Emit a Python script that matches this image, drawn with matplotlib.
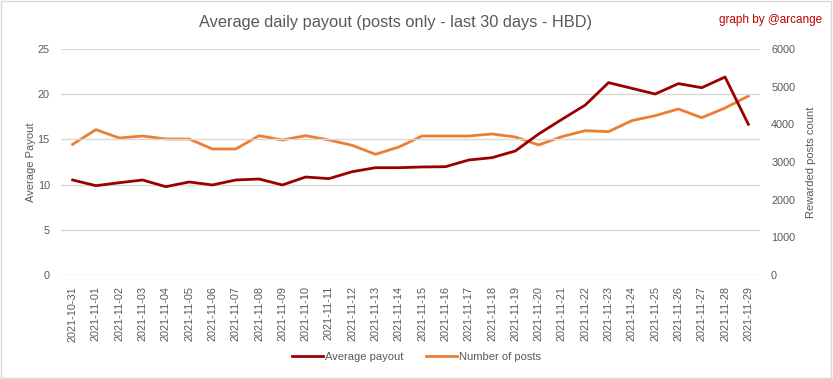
import matplotlib
matplotlib.use("Agg")
import matplotlib.pyplot as plt
from matplotlib.patches import Rectangle

dates = ["2021-10-31", "2021-11-01", "2021-11-02", "2021-11-03", "2021-11-04",
         "2021-11-05", "2021-11-06", "2021-11-07", "2021-11-08", "2021-11-09",
         "2021-11-10", "2021-11-11", "2021-11-12", "2021-11-13", "2021-11-14",
         "2021-11-15", "2021-11-16", "2021-11-17", "2021-11-18", "2021-11-19",
         "2021-11-20", "2021-11-21", "2021-11-22", "2021-11-23", "2021-11-24",
         "2021-11-25", "2021-11-26", "2021-11-27", "2021-11-28", "2021-11-29"]

avg_payout = [10.51, 9.88, 10.21, 10.51, 9.77, 10.29, 9.96, 10.51, 10.62, 9.96,
              10.84, 10.66, 11.43, 11.87, 11.87, 11.95, 11.98, 12.72, 12.98, 13.72,
              15.6, 17.22, 18.8, 21.28, 20.65, 20.02, 21.17, 20.72, 21.9, 16.67]

num_posts = [3469, 3859, 3637, 3690, 3611, 3611, 3345, 3345, 3699, 3584,
             3699, 3584, 3443, 3204, 3398, 3690, 3690, 3690, 3744, 3664,
             3452, 3673, 3832, 3806, 4098, 4230, 4407, 4177, 4434, 4752]

plt.rcParams['font.family'] = ['Liberation Sans', 'DejaVu Sans']
grey = "#595959"
red = "#9b0000"
orange = "#ed7d31"

fig = plt.figure(figsize=(8.33, 3.79), dpi=100)
ax = fig.add_axes([61 / 833, 1 - 275 / 379, 699 / 833, 226 / 379])
ax2 = ax.twinx()

x = list(range(len(dates)))
l1, = ax.plot(x, avg_payout, color=red, lw=2, label="Average payout")
l2, = ax2.plot(x, num_posts, color=orange, lw=2, label="Number of posts")
ax.set_zorder(ax2.get_zorder() + 1)
ax.patch.set_visible(False)

ax.set_xlim(-0.5, len(dates) - 0.5)
ax.set_ylim(0, 25)
ax2.set_ylim(0, 6000)
ax.set_yticks([0, 5, 10, 15, 20, 25])
ax2.set_yticks(range(0, 6001, 1000))
ax.set_xticks(x)
ax.set_xticklabels(dates, rotation=90)

for a in (ax, ax2):
    for s in a.spines.values():
        s.set_visible(False)
    a.tick_params(length=0, colors=grey, labelsize=7.8)
ax.tick_params(axis='x', pad=8)
ax.tick_params(axis='y', pad=8)
ax2.tick_params(axis='y', pad=8)
ax.grid(axis='y', color="#d9d9d9", lw=1)

ax.set_ylabel("Average Payout", color=grey, fontsize=8, labelpad=1)
ax2.set_ylabel("Rewarded posts count", color=grey, fontsize=8, labelpad=8)

fig.text(0.475, 1 - 22 / 379, "Average daily payout (posts only - last 30 days - HBD)",
         ha="center", va="center", fontsize=11.8, color=grey)
fig.text(0.987, 1 - 20 / 379, "graph by @arcange", ha="right", va="center",
         fontsize=8.5, color="#c00000")

fig.legend(handles=[l1, l2], loc="center", bbox_to_anchor=(0.5, 1 - 357 / 379),
           ncol=2, frameon=False, fontsize=8, labelcolor=grey, handlelength=2.8,
           handletextpad=0.2, columnspacing=2)

fig.patches.append(Rectangle((0.001, 0.002), 0.997, 0.995, transform=fig.transFigure,
                             fill=False, edgecolor="#d9d9d9", lw=1))

fig.savefig("out.png", dpi=100, facecolor="white")
